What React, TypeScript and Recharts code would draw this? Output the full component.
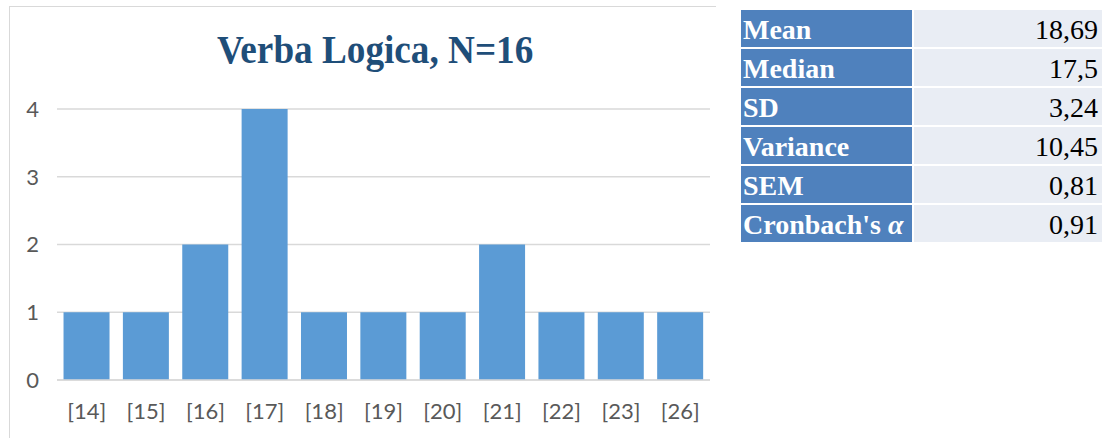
import React from "react";
import { Bar, BarChart, CartesianGrid, XAxis, YAxis } from "recharts";

const scores = ["[14]", "[15]", "[16]", "[17]", "[18]", "[19]", "[20]", "[21]", "[22]", "[23]", "[26]"];
const counts = [1, 1, 2, 4, 1, 1, 1, 2, 1, 1, 1];
const yTicks = [0, 1, 2, 3, 4];

const statNames = ["Mean", "Median", "SD", "Variance", "SEM", "Cronbach's α"];
const statValues = ["18,69", "17,5", "3,24", "10,45", "0,81", "0,91"];

const data = scores.map((score, i) => ({ score, count: counts[i] }));

const serif = "'Liberation Serif', 'Times New Roman', serif";
const tickStyle = { fontFamily: "Lato, 'Open Sans', sans-serif", fontSize: 22, fill: "#595959" };

function StatsTable() {
  return (
    <div
      style={{
        position: "absolute",
        left: 741,
        top: 10,
        display: "grid",
        gridTemplateColumns: "171px 188px",
        columnGap: 2,
        rowGap: 2,
        fontFamily: serif,
      }}
    >
      {statNames.map((name, i) => (
        <React.Fragment key={name}>
          <div
            style={{
              background: "#4F81BD",
              color: "#fff",
              fontWeight: "bold",
              fontSize: 28,
              height: 37,
              lineHeight: "39px",
              paddingLeft: 2,
              whiteSpace: "nowrap",
            }}
          >
            {name === "Cronbach's α" ? (
              <>
                Cronbach's <i>α</i>
              </>
            ) : (
              name
            )}
          </div>
          <div
            style={{
              background: "#E9EDF4",
              color: "#000",
              fontSize: 28,
              height: 37,
              lineHeight: "40px",
              textAlign: "right",
              paddingRight: 4,
            }}
          >
            {statValues[i]}
          </div>
        </React.Fragment>
      ))}
    </div>
  );
}

export default function App() {
  return (
    <div style={{ position: "absolute", left: 0, top: 0, width: 1105, height: 438, background: "#fff", overflow: "hidden" }}>
      <div
        style={{
          position: "absolute",
          left: 9,
          top: 6,
          width: 706,
          height: 440,
          borderTop: "1.5px solid #d9d9d9",
          borderLeft: "1.5px solid #d9d9d9",
        }}
      />
      <div
        style={{
          position: "absolute",
          left: 0,
          width: 750,
          top: 26,
          textAlign: "center",
          fontFamily: serif,
          fontWeight: "bold",
          fontSize: 40,
          color: "#1F4E79",
          whiteSpace: "nowrap",
        }}
      >
        <span style={{ display: "inline-block", transform: "scaleX(0.93)" }}>Verba Logica, N=16</span>
      </div>
      <div style={{ position: "absolute", left: 0, top: 0 }}>
        <BarChart
          width={720}
          height={438}
          data={data}
          margin={{ top: 109, right: 10, bottom: 28, left: 17 }}
          barCategoryGap="11%"
        >
          <CartesianGrid vertical={false} stroke="#d9d9d9" strokeWidth={1.5} />
          <XAxis
            dataKey="score"
            axisLine={{ stroke: "#d9d9d9", strokeWidth: 1.5 }}
            tickLine={false}
            tickSize={0}
            tickMargin={23}
            tick={tickStyle}
            interval={0}
          />
          <YAxis
            width={40}
            domain={[0, 4]}
            ticks={yTicks}
            axisLine={false}
            tickLine={false}
            tickSize={0}
            tickMargin={18}
            tick={tickStyle}
          />
          <Bar dataKey="count" fill="#5B9BD5" isAnimationActive={false} />
        </BarChart>
      </div>
      <StatsTable />
    </div>
  );
}
